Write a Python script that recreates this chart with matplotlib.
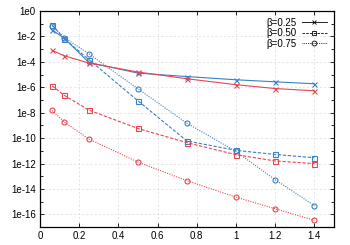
import numpy as np
import matplotlib.pyplot as plt
from matplotlib.lines import Line2D

# step sizes
h = [0.0625, 0.125, 0.25, 0.5, 0.75, 1.0, 1.2, 1.4]

# errors, blue method
blue_025 = [3.3e-2, 7e-3, 9e-5, 1.3e-5, 7e-6, 3.9e-6, 2.7e-6, 1.9e-6]
blue_050 = [8e-2, 6.5e-3, 1.5e-4, 8.7e-8, 6e-11, 1.1e-11, 5.2e-12, 2.9e-12]
blue_075 = [7e-2, 8e-3, 4.3e-4, 7.6e-7, 1.5e-9, 9e-12, 5.4e-14, 5e-16]

# errors, red method
red_025 = [7.9e-4, 3e-4, 8e-5, 1.6e-5, 4.7e-6, 1.6e-6, 8e-7, 5.3e-7]
red_050 = [1.3e-6, 2.3e-7, 1.6e-8, 5.8e-10, 4.4e-11, 5e-12, 1.6e-12, 1e-12]
red_075 = [1.5e-8, 1.8e-9, 8.5e-11, 1.3e-12, 4.5e-14, 2.3e-15, 2.8e-16, 3.4e-17]

labels = ['\u03b2=0.25', '\u03b2=0.50', '\u03b2=0.75']

blue = '#3a80c6'
red = '#e8464f'

plt.rcParams['font.family'] = ['Liberation Sans', 'DejaVu Sans']
plt.rcParams['font.size'] = 7

fig = plt.figure(figsize=(3.5, 2.45), dpi=100)
ax = fig.add_axes([0.114, 0.073, 0.840, 0.882])

styles = [('x', '-'), ('s', (0, (3, 1.5))), ('o', (0, (1, 1.2)))]
for data, c in [((blue_025, blue_050, blue_075), blue), ((red_025, red_050, red_075), red)]:
    for y, (m, ls) in zip(data, styles):
        ax.plot(h, y, color=c, marker=m, linestyle=ls, linewidth=0.8,
                markersize=3.6, markerfacecolor='none', markeredgewidth=0.8)

ax.set_yscale('log')
ax.set_xlim(0, 1.5)
ax.set_ylim(1e-17, 1e0)
ax.set_xticks([0, 0.2, 0.4, 0.6, 0.8, 1, 1.2, 1.4])
ax.set_xticklabels(['0', '0.2', '0.4', '0.6', '0.8', '1', '1.2', '1.4'])
yt = [10.0 ** (-k) for k in range(0, 17, 2)]
ax.set_yticks(yt)
ax.set_yticklabels(['1e0'] + ['1e-%d' % k for k in range(2, 17, 2)])
ax.set_yticks([10.0 ** (-k) for k in range(1, 17, 2)], minor=True)
ax.yaxis.set_minor_formatter(plt.NullFormatter())
ax.tick_params(which='both', direction='in', top=True, right=True, length=3, width=0.6)
ax.tick_params(which='minor', length=2)
ax.tick_params(axis='both', pad=3)
ax.grid(True, which='major', color='#dadada', linestyle=(0, (3, 3)), linewidth=0.5)
for s in ax.spines.values():
    s.set_linewidth(0.9)

handles = [Line2D([], [], color='black', marker=m, linestyle=ls, linewidth=0.6,
                  markersize=3.5, markerfacecolor='none', markeredgewidth=0.6)
           for m, ls in styles]
ax.legend(handles, labels, loc='upper right', frameon=False, markerfirst=False,
          handlelength=2.6, handletextpad=0.5, labelspacing=0.05,
          borderaxespad=0.3, fontsize=7)

fig.savefig('out.png', dpi=100)
